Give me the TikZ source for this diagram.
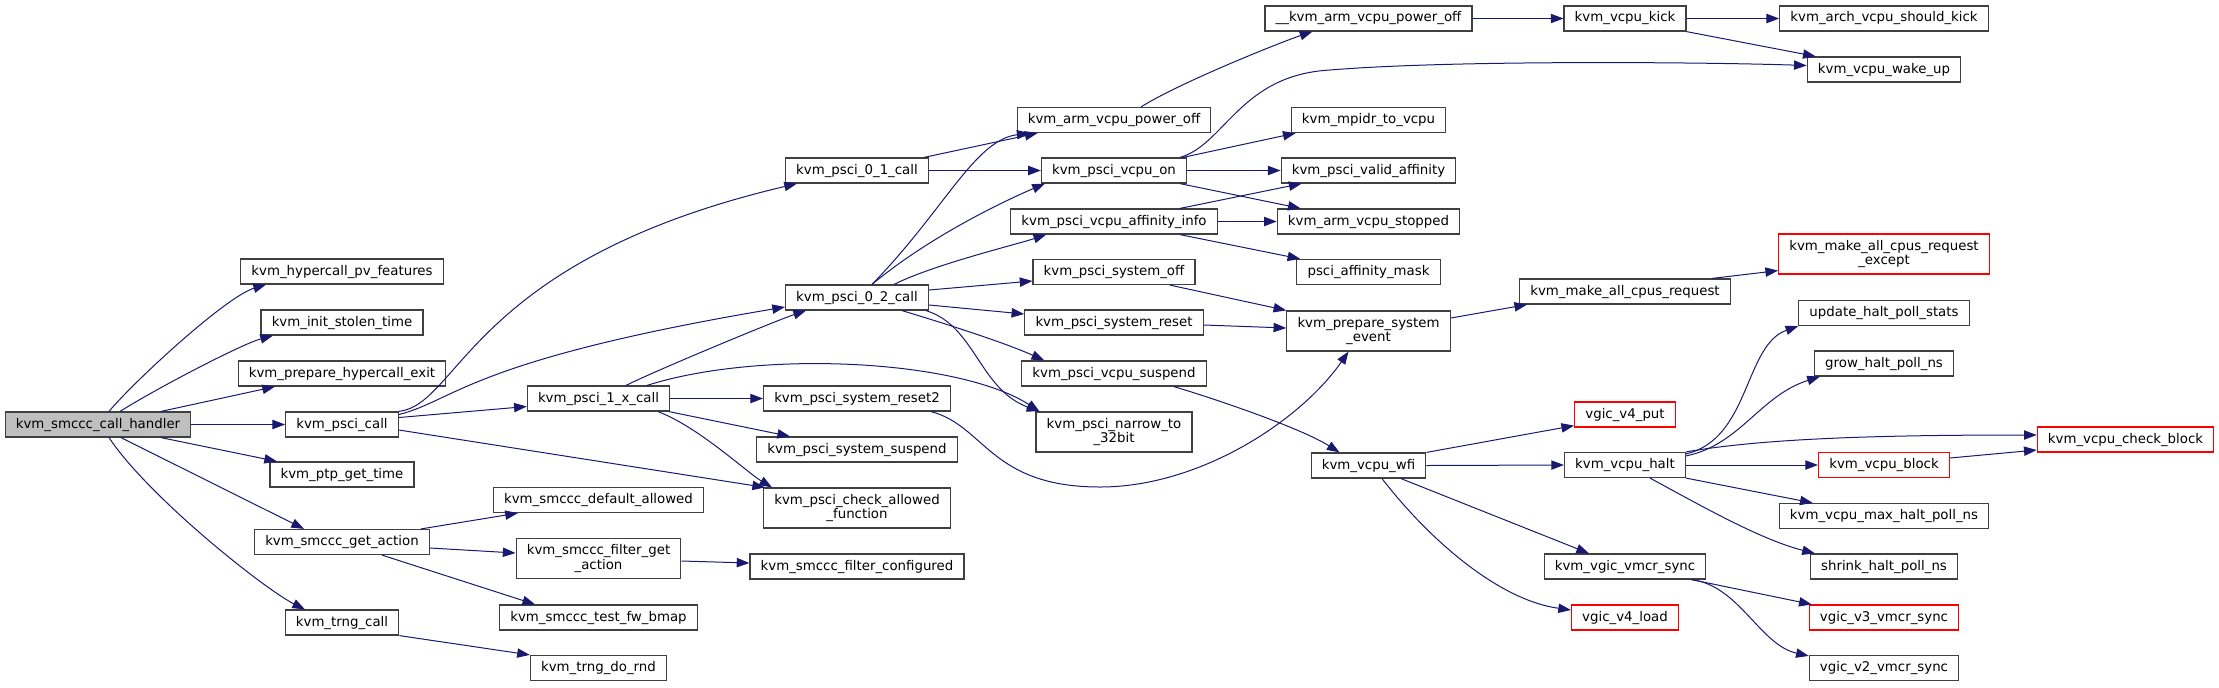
\documentclass[tikz,border=0pt]{standalone}
\usepackage{fontspec}
\setmainfont{DejaVu Sans}
\usetikzlibrary{arrows.meta,calc}
\definecolor{edgeblue}{HTML}{191970}
\definecolor{rootgray}{HTML}{BFBFBF}
\definecolor{boxline}{HTML}{404040}

\begin{document}
\begin{tikzpicture}[x=0.75pt,y=-0.75pt,
    fn/.style={draw=boxline,line width=0.9pt,fill=white,inner xsep=8pt,inner ysep=4pt,
               minimum height=18.75pt,align=center,font=\fontsize{10pt}{11pt}\selectfont},
    fnred/.style={fn,draw=red},
    fnroot/.style={fn,fill=rootgray},
    fntwo/.style={minimum height=30pt},
    calls/.style={draw=edgeblue,line width=0.75pt,-{Triangle[length=9.5pt,width=7pt]}}]
    \useasboundingbox (0,0) rectangle (2219,687);

    % caller
    \node[fnroot] (handler) at (98,424.5) {kvm\_smccc\_call\_handler};

    % second column
    \node[fn] (hpv)   at (342,271.5) {kvm\_hypercall\_pv\_features};
    \node[fn] (ist)   at (342,322.5) {kvm\_init\_stolen\_time};
    \node[fn] (phe)   at (342,373.5) {kvm\_prepare\_hypercall\_exit};
    \node[fn] (pcall) at (342,424.5) {kvm\_psci\_call};
    \node[fn] (ptp)   at (342,474.5) {kvm\_ptp\_get\_time};
    \node[fn] (gact)  at (342,542)   {kvm\_smccc\_get\_action};
    \node[fn] (trng)  at (342,622.5) {kvm\_trng\_call};

    \node[fn] (p1x)  at (598.5,398.5) {kvm\_psci\_1\_x\_call};
    \node[fn] (dall) at (598.5,500)   {kvm\_smccc\_default\_allowed};
    \node[fn,fntwo] (fga) at (598.5,558.5) {kvm\_smccc\_filter\_get\\\_action};
    \node[fn] (tfb)  at (598.5,617.5) {kvm\_smccc\_test\_fw\_bmap};
    \node[fn] (rnd)  at (598.5,668)   {kvm\_trng\_do\_rnd};

    \node[fn] (p01)  at (857,170.5) {kvm\_psci\_0\_1\_call};
    \node[fn] (p02)  at (857,297.5) {kvm\_psci\_0\_2\_call};
    \node[fn] (rst2) at (857,398.5) {kvm\_psci\_system\_reset2};
    \node[fn] (ssus) at (857,449.5) {kvm\_psci\_system\_suspend};
    \node[fn,fntwo] (chk) at (857,508) {kvm\_psci\_check\_allowed\\\_function};
    \node[fn] (fcfg) at (857,566.5) {kvm\_smccc\_filter\_configured};

    \node[fn] (apo)  at (1114,120)   {kvm\_arm\_vcpu\_power\_off};
    \node[fn] (von)  at (1114,170.5) {kvm\_psci\_vcpu\_on};
    \node[fn] (aff)  at (1114,221.5) {kvm\_psci\_vcpu\_affinity\_info};
    \node[fn] (soff) at (1114,272)   {kvm\_psci\_system\_off};
    \node[fn] (srst) at (1114,322.5) {kvm\_psci\_system\_reset};
    \node[fn] (vsus) at (1114,373.5) {kvm\_psci\_vcpu\_suspend};
    \node[fn,fntwo] (nar) at (1114,432) {kvm\_psci\_narrow\_to\\\_32bit};

    \node[fn] (uapo)  at (1368.5,18.5)  {\_\_kvm\_arm\_vcpu\_power\_off};
    \node[fn] (mpidr) at (1368.5,120)   {kvm\_mpidr\_to\_vcpu};
    \node[fn] (valid) at (1368.5,170.5) {kvm\_psci\_valid\_affinity};
    \node[fn] (stop)  at (1368.5,221.5) {kvm\_arm\_vcpu\_stopped};
    \node[fn] (mask)  at (1368.5,272)   {psci\_affinity\_mask};
    \node[fn,fntwo] (pse) at (1368.5,331) {kvm\_prepare\_system\\\_event};
    \node[fn] (wfi)   at (1368.5,465.5) {kvm\_vcpu\_wfi};

    \node[fn]    (kick)   at (1625,18.5)  {kvm\_vcpu\_kick};
    \node[fn]    (mall)   at (1625,291.5) {kvm\_make\_all\_cpus\_request};
    \node[fnred] (v4put)  at (1625,414.5) {vgic\_v4\_put};
    \node[fn]    (halt)   at (1625,465)   {kvm\_vcpu\_halt};
    \node[fn]    (vsync)  at (1625,566.5) {kvm\_vgic\_vmcr\_sync};
    \node[fnred] (v4load) at (1625,617.5) {vgic\_v4\_load};

    \node[fn]    (skick) at (1884,18.5)  {kvm\_arch\_vcpu\_should\_kick};
    \node[fn]    (wake)  at (1884,69.5)  {kvm\_vcpu\_wake\_up};
    \node[fnred,fntwo] (mexc) at (1884,254) {kvm\_make\_all\_cpus\_request\\\_except};
    \node[fn]    (ups)   at (1884,313)   {update\_halt\_poll\_stats};
    \node[fn]    (grow)  at (1884,363.5) {grow\_halt\_poll\_ns};
    \node[fnred] (block) at (1884,465)   {kvm\_vcpu\_block};
    \node[fn]    (maxh)  at (1884,516)   {kvm\_vcpu\_max\_halt\_poll\_ns};
    \node[fn]    (shr)   at (1884,566.5) {shrink\_halt\_poll\_ns};
    \node[fnred] (v3)    at (1884,617.5) {vgic\_v3\_vmcr\_sync};
    \node[fn]    (v2)    at (1884,668)   {vgic\_v2\_vmcr\_sync};

    \node[fnred] (cblk) at (2125.5,439.5) {kvm\_vcpu\_check\_block};

    % calls from the handler
    \draw[calls] ($(handler.north)+(11,0)$) .. controls +(25,-30) and +(-40,12) .. ($(hpv.south)+(-76,0)$);
    \draw[calls] ($(handler.north)+(22,0)$) .. controls +(40,-25) and +(-30,8) .. ($(ist.south)+(-69,0)$);
    \draw[calls] ($(handler.north)+(63,0)$) -- ($(phe.south)+(-67,0)$);
    \draw[calls] (handler.east) -- (pcall.west);
    \draw[calls] ($(handler.south)+(63,0)$) -- ($(ptp.north)+(-65,0)$);
    \draw[calls] ($(handler.south)+(23,0)$) .. controls +(50,25) and +(-40,-20) .. ($(gact.north)+(-38,0)$);
    \draw[calls] ($(handler.south)+(11,0)$) .. controls +(40,60) and +(-40,-20) .. ($(trng.north)+(-37,0)$);

    % psci
    \draw[calls] (pcall.north east) .. controls +(61,-7) and +(-327,77) .. ($(p01.south west)+(12,0)$);
    \draw[calls] ($(pcall.east)+(0,-10)$) .. controls +(56,-14) and +(-315,53) .. ($(p02.west)+(0,9.5)$);
    \draw[calls] ($(pcall.east)+(0,-7)$) -- ($(p1x.west)+(0,8)$);
    \draw[calls] ($(pcall.east)+(0,5.5)$) -- ($(chk.north west)+(2,0)$);

    \draw[calls] ($(p1x.north)+(27.5,0)$) .. controls +(30,-15) and +(-30,10) .. ($(p02.south)+(-51,0)$);
    \draw[calls] (p1x.east) -- (rst2.west);
    \draw[calls] ($(p1x.south)+(70.5,0)$) -- ($(ssus.north)+(-67,0)$);
    \draw[calls] ($(p1x.south)+(59.5,0)$) .. controls +(40,15) and +(-25,-15) .. ($(chk.north)+(-85,0)$);
    \draw[calls] ($(p1x.north)+(48.5,0)$) .. controls +(113,-36) and +(-80,-52) .. ($(nar.north west)+(4,0)$);

    \draw[calls] ($(p02.north)+(15,0)$) .. controls +(73,-75) and +(-55,7) .. ($(apo.south west)+(13,0)$);
    \draw[calls] ($(p02.north)+(15,0)$) .. controls +(60,-50) and +(-35,15) .. ($(von.south west)+(4,0)$);
    \draw[calls] ($(p02.north)+(37,0)$) .. controls +(40,-20) and +(-30,10) .. ($(aff.south west)+(36,0)$);
    \draw[calls] ($(p02.east)+(0,-7.5)$) -- ($(soff.west)+(0,9)$);
    \draw[calls] ($(p02.east)+(0,7.5)$) -- ($(srst.west)+(0,-8.5)$);
    \draw[calls] ($(p02.south)+(45,0)$) .. controls +(40,12) and +(-40,-18) .. ($(vsus.north west)+(23,0)$);
    \draw[calls] ($(p02.south)+(69,0)$) .. controls +(49,15) and +(-60,-22) .. ($(nar.north west)+(4,0)$);

    \draw[calls] ($(p01.north)+(67,0)$) -- ($(apo.south west)+(21,0)$);
    \draw[calls] (p01.east) -- (von.west);

    % vcpu
    \draw[calls] ($(apo.north)+(27,0)$) .. controls +(40,-25) and +(-30,10) .. ($(uapo.south west)+(48,0)$);
    \draw[calls] ($(von.north)+(66,0)$) .. controls +(45,-13) and +(-90,5) .. (1330,70)
                 .. controls +(120,-10) and +(-107,-3.5) .. ($(wake.west)+(0,-4)$);
    \draw[calls] ($(von.north)+(69,0)$) -- ($(mpidr.south west)+(5,0)$);
    \draw[calls] (von.east) -- (valid.west);
    \draw[calls] ($(von.south)+(66,0)$) -- ($(stop.north west)+(24,0)$);
    \draw[calls] ($(aff.north)+(66,0)$) -- ($(valid.south west)+(21,0)$);
    \draw[calls] (aff.east) -- (stop.west);
    \draw[calls] ($(aff.south)+(66,0)$) -- ($(mask.north west)+(4,0)$);
    \draw[calls] ($(soff.south)+(56,0)$) -- (pse.north west);
    \draw[calls] ($(srst.east)+(0,2.5)$) -- ($(pse.west)+(0,-3)$);
    \draw[calls] ($(vsus.south)+(60,0)$) .. controls +(40,12) and +(-40,-25) .. ($(wfi.north west)+(29,0)$);
    \draw[calls] ($(rst2.south east)+(-20,0)$) .. controls +(54,14) and +(-110,0) .. (1100,487)
                 .. controls +(100,0) and +(-48,69) .. ($(pse.south)+(-20,0)$);

    \draw[calls] (uapo.east) -- (kick.west);
    \draw[calls] ($(pse.east)+(0,-13)$) -- ($(mall.south west)+(8,0)$);
    \draw[calls] (wfi.north east) -- ($(v4put.south west)+(0,-2)$);
    \draw[calls] (wfi.east) -- (halt.west);
    \draw[calls] ($(wfi.south)+(32.5,0)$) -- ($(vsync.north)+(-36,0)$);
    \draw[calls] ($(wfi.south)+(13.5,0)$) .. controls +(48,62) and +(-72,-10) .. ($(v4load.west)+(0,-7.5)$);

    \draw[calls] (kick.east) -- (skick.west);
    \draw[calls] (kick.south east) -- ($(wake.north west)+(9,0)$);
    \draw[calls] ($(mall.north east)+(-19,0)$) -- ($(mexc.south west)+(0,-4)$);
    \draw[calls] ($(halt.north east)+(0,2)$) .. controls +(64,-15) and +(-54,19) .. (ups.south west);
    \draw[calls] ($(halt.north east)+(0,4)$) .. controls +(54,-11) and +(-60,19) .. ($(grow.south west)+(6,0)$);
    \draw[calls] (halt.north east) .. controls +(80,-14) and +(-150,0) .. ($(cblk.west)+(0,-4.5)$);
    \draw[calls] (halt.east) -- (block.west);
    \draw[calls] (halt.south east) -- ($(maxh.north west)+(34,0)$);
    \draw[calls] ($(halt.south)+(25,0)$) .. controls +(50,27) and +(-55,-14) .. ($(shr.north west)+(5,0)$);
    \draw[calls] ($(block.east)+(0,-7)$) -- ($(cblk.west)+(0,10.5)$);
    \draw[calls] ($(vsync.south east)+(-15,0)$) -- ($(v3.north west)+(3,0)$);
    \draw[calls] ($(vsync.south east)+(-15,0)$) .. controls +(48,6) and +(-49,-11) .. ($(v2.north west)+(0,1)$);

    % smccc filter and trng
    \draw[calls] ($(gact.north east)+(-9,0)$) -- ($(dall.south west)+(25,0)$);
    \draw[calls] ($(gact.east)+(0,6)$) -- ($(fga.west)+(0,-5.5)$);
    \draw[calls] ($(gact.south)+(40,0)$) -- ($(tfb.north west)+(36,0)$);
    \draw[calls] ($(fga.east)+(0,2.5)$) -- ($(fcfg.west)+(0,-3.5)$);
    \draw[calls] (trng.south east) -- (rnd.north west);
\end{tikzpicture}
\end{document}
